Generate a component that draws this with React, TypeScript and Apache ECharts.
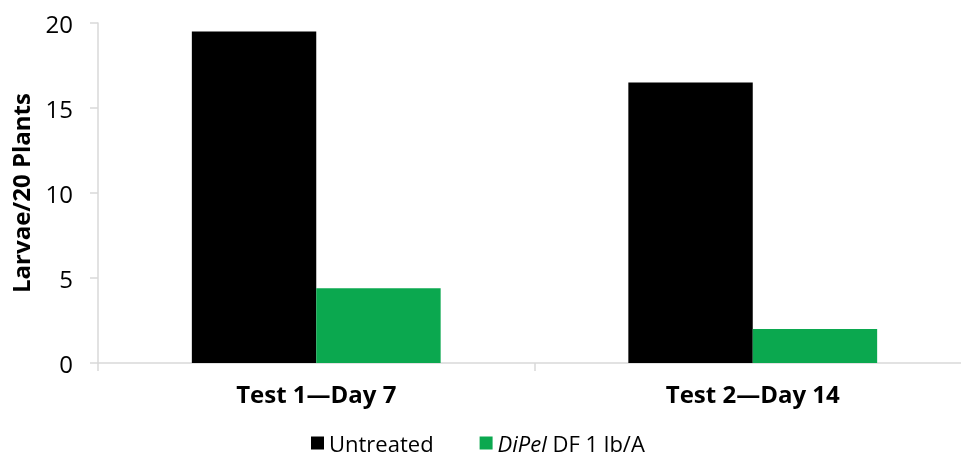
import React, { useEffect, useRef } from "react";
import * as echarts from "echarts";

const categories = ["Test 1\u2014Day 7", "Test 2\u2014Day 14"];
const untreated = [19.5, 16.5];
const dipel = [4.4, 2.0];
const seriesNames = ["Untreated", "DiPel DF 1 lb/A"];

const FONT = "Open Sans";

export default function App() {
  const ref = useRef<HTMLDivElement>(null);
  useEffect(() => {
    if (!ref.current) return;
    const chart = echarts.init(ref.current, undefined, { renderer: "svg" });
    chart.setOption({
      animation: false,
      textStyle: { fontFamily: FONT },
      grid: {
        left: 98,
        width: 873,
        top: 23,
        height: 340,
        containLabel: false,
        outerBoundsMode: "none",
      },
      legend: {
        top: 432,
        left: 311,
        padding: 0,
        itemWidth: 13,
        itemHeight: 13,
        itemGap: 46,
        icon: "rect",
        data: seriesNames,
        textStyle: {
          fontFamily: FONT,
          fontSize: 22,
          lineHeight: 22,
          color: "#000",
          rich: {
            it: { fontFamily: FONT, fontSize: 22, lineHeight: 22, fontStyle: "italic", color: "#000" },
            n: { fontFamily: FONT, fontSize: 22, lineHeight: 22, color: "#000" },
          },
        },
        formatter: (name: string) =>
          name.startsWith("DiPel") ? "{it|DiPel}{n| DF 1 lb/A}" : name,
      },
      xAxis: {
        type: "category",
        data: categories,
        axisLine: { lineStyle: { color: "#d9d9d9", width: 1.5 } },
        axisTick: { show: true, length: 8, lineStyle: { color: "#d9d9d9", width: 1.5 } },
        axisLabel: { fontFamily: FONT, fontSize: 24, fontWeight: "bold", color: "#000", margin: 18 },
      },
      yAxis: {
        type: "value",
        min: 0,
        max: 20,
        interval: 5,
        name: "Larvae/20 Plants",
        nameLocation: "middle",
        nameGap: 66,
        nameTextStyle: { fontFamily: FONT, fontSize: 24, fontWeight: "bold", color: "#000" },
        axisLine: { show: true, lineStyle: { color: "#d9d9d9", width: 1.5 } },
        axisTick: { show: true, length: 8, lineStyle: { color: "#d9d9d9", width: 1.5 } },
        splitLine: { show: false },
        axisLabel: { fontFamily: FONT, fontSize: 24, color: "#000", margin: 25 },
      },
      series: [
        {
          name: seriesNames[0],
          type: "bar",
          data: untreated,
          barWidth: "28.5%",
          barGap: "0%",
          itemStyle: { color: "#000000" },
        },
        {
          name: seriesNames[1],
          type: "bar",
          data: dipel,
          barWidth: "28.5%",
          barGap: "0%",
          itemStyle: { color: "#0ba84f" },
        },
      ],
    });
    return () => chart.dispose();
  }, []);
  return (
    <div
      ref={ref}
      style={{ position: "fixed", left: 0, top: 0, width: 961, height: 458, overflow: "hidden" }}
    />
  );
}
